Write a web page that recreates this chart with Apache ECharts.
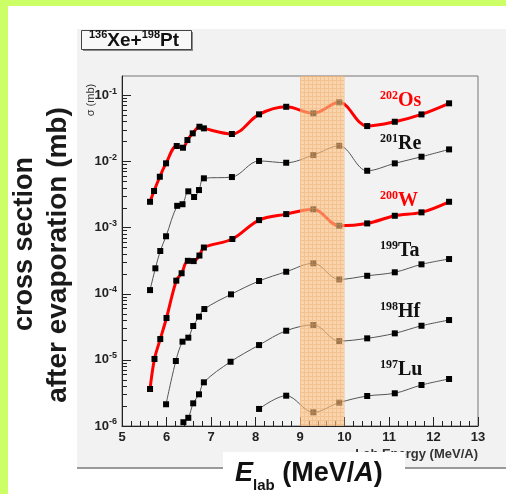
<!DOCTYPE html>
<html><head><meta charset="utf-8">
<script src="https://cdn.jsdelivr.net/npm/echarts/dist/echarts.min.js"></script>
<style>html,body{margin:0;padding:0;background:#fff}#c{width:506px;height:494px}</style>
</head><body><div id="c"></div>
<script>
// ---------------- data ----------------
const xTicks = [5, 6, 7, 8, 9, 10, 11, 12, 13];
const yDecades = [-6, -5, -4, -3, -2, -1];
const bandRange = [9, 10];

const os202E = [5.63, 5.72, 5.85, 5.99, 6.23, 6.37, 6.47, 6.59, 6.74, 6.84, 7.47, 8.08, 8.69, 9.30, 9.88, 10.51, 11.13, 11.73, 12.35];
const os202S = [2.44e-3, 3.55e-3, 5.83e-3, 9.3e-3, 1.70e-2, 1.60e-2, 2.09e-2, 2.64e-2, 3.32e-2, 3.14e-2, 2.58e-2, 5.11e-2, 6.65e-2, 5.3e-2, 7.76e-2, 3.4e-2, 3.95e-2, 5.1e-2, 7.5e-2];

const re201E = [5.63, 5.75, 5.86, 5.99, 6.24, 6.36, 6.49, 6.62, 6.73, 6.84, 7.47, 8.08, 8.69, 9.30, 9.88, 10.51, 11.13, 11.73, 12.35];
const re201S = [1.13e-4, 2.41e-4, 4.40e-4, 7.35e-4, 2.12e-3, 2.24e-3, 3.51e-3, 2.88e-3, 3.67e-3, 5.52e-3, 5.77e-3, 1.01e-2, 9.49e-3, 1.24e-2, 1.71e-2, 7.18e-3, 9.29e-3, 1.17e-2, 1.51e-2];

const w200E = [5.63, 5.73, 5.86, 6.00, 6.22, 6.34, 6.48, 6.61, 6.74, 6.84, 7.48, 8.08, 8.69, 9.30, 9.88, 10.51, 11.13, 11.73, 12.35];
const w200S = [3.62e-6, 1.03e-5, 2.06e-5, 4.28e-5, 1.57e-4, 2.03e-4, 3.13e-4, 3.1e-4, 3.76e-4, 4.97e-4, 6.68e-4, 1.29e-3, 1.59e-3, 1.88e-3, 1.06e-3, 1.15e-3, 1.50e-3, 1.69e-3, 2.44e-3];

const ta199E = [5.99, 6.21, 6.36, 6.49, 6.60, 6.73, 6.85, 7.45, 8.08, 8.69, 9.30, 9.88, 10.51, 11.13, 11.73, 12.35];
const ta199S = [2.13e-6, 9.6e-6, 1.88e-5, 2.16e-5, 3.24e-5, 4.48e-5, 5.85e-5, 9.75e-5, 1.55e-4, 2.14e-4, 2.87e-4, 1.64e-4, 1.86e-4, 2.10e-4, 2.77e-4, 3.33e-4];

const hf198E = [6.38, 6.49, 6.60, 6.73, 6.84, 7.44, 8.08, 8.69, 9.30, 9.88, 10.51, 11.13, 11.73, 12.35];
const hf198S = [1.14e-6, 1.33e-6, 2.20e-6, 3.01e-6, 4.57e-6, 9.35e-6, 1.67e-5, 2.75e-5, 3.36e-5, 1.92e-5, 2.11e-5, 2.51e-5, 3.27e-5, 3.99e-5];

const lu197E = [8.08, 8.69, 9.30, 9.88, 10.51, 11.13, 11.73, 12.35];
const lu197S = [1.81e-6, 2.87e-6, 1.61e-6, 2.25e-6, 2.84e-6, 3.12e-6, 4.16e-6, 5.13e-6];

const isoSup = ['202', '201', '200', '199', '198', '197'];
const isoMain = ['Os', 'Re', 'W', 'Ta', 'Hf', 'Lu'];

// ---------------- layout / style ----------------
const RED = '#ff0000';
const yMin = 1e-6, yMax = 0.194;
const GL = 122, GT = 76, GW = 356, GH = 350;
const isoLayout = [ // [x of superscript, center y of main text, colour]
  [380, 100.5, RED], [380, 143.5, '#111'], [380, 200.5, RED],
  [380, 251, '#111'], [380, 311.5, '#111'], [380, 369.5, '#111']
];

const mctx = document.createElement('canvas').getContext('2d');
function tw(text, font) { mctx.font = font; return mctx.measureText(text).width; }

// band pattern
const pc = document.createElement('canvas'); pc.width = 4; pc.height = 4;
const pg = pc.getContext('2d');
pg.fillStyle = 'rgba(252,195,130,0.62)'; pg.fillRect(0, 0, 4, 4);
pg.fillStyle = 'rgba(235,150,80,0.32)'; pg.fillRect(0, 0, 4, 1); pg.fillRect(0, 1, 1, 3);

function mkSeries(name, E, S, red) {
  return {
    name, type: 'line', data: E.map((e, i) => [e, S[i]]),
    smooth: 0.35, symbol: 'rect', symbolSize: 6, z: 4,
    lineStyle: { color: red ? RED : '#555', width: red ? 3 : 1 },
    itemStyle: { color: '#000' }, animation: false
  };
}

const graphics = [];
// backgrounds
graphics.push({ type: 'rect', z: -100, shape: { x: 0, y: 0, width: 506, height: 494 }, style: { fill: '#ffffff' } });
graphics.push({ type: 'rect', z: -99, shape: { x: 0, y: 0, width: 8, height: 494 }, style: { fill: '#ccff66' } });
graphics.push({ type: 'rect', z: -99, shape: { x: 0, y: 0, width: 506, height: 6 }, style: { fill: '#ccff66' } });
graphics.push({ type: 'rect', z: -98, shape: { x: 77, y: 29, width: 429, height: 439 }, style: { fill: '#f2f2f2' } });
graphics.push({ type: 'rect', z: -97, shape: { x: 77, y: 467, width: 429, height: 2 }, style: { fill: '#9a9a9a' } });

// reaction box
graphics.push({ type: 'rect', z: 20, shape: { x: 83, y: 32, width: 110, height: 19 }, style: { fill: '#8a8a8a' } });
graphics.push({ type: 'rect', z: 21, shape: { x: 81.5, y: 30.5, width: 110, height: 19 }, style: { fill: '#f8f8f8', stroke: '#444', lineWidth: 1 } });
(function () {
  const toks = [['136', 'bold 11px "Liberation Sans"', 35], ['Xe+', 'bold 19px "Liberation Sans"', 41],
                ['198', 'bold 11px "Liberation Sans"', 35], ['Pt', 'bold 19px "Liberation Sans"', 41]];
  let x = 89;
  toks.forEach(t => {
    graphics.push({ type: 'text', z: 22, style: { x, y: t[2], text: t[0], font: t[1], fill: '#111', textVerticalAlign: 'middle' } });
    x += tw(t[0], t[1]);
  });
})();

// isotope labels
isoSup.forEach((s, i) => {
  const [x, cy, col] = isoLayout[i];
  const fs = 'bold 12px "Liberation Serif"', fm = 'bold 20px "Liberation Serif"';
  graphics.push({ type: 'text', z: 30, style: { x, y: cy - 5, text: s, font: fs, fill: col, textVerticalAlign: 'middle' } });
  graphics.push({ type: 'text', z: 30, style: { x: x + tw(s, fs), y: cy, text: isoMain[i], font: fm, fill: col, textVerticalAlign: 'middle' } });
});

// inner y name
graphics.push({ type: 'text', z: 30, x: 91, y: 100, rotation: Math.PI / 2,
  style: { x: 0, y: 0, text: 'σ (mb)', font: '11px "Liberation Sans"', fill: '#333', textAlign: 'center', textVerticalAlign: 'middle' } });
// inner x name
graphics.push({ type: 'text', z: 50, style: { x: 478, y: 454, text: 'Lab Energy (MeV/A)', font: 'bold 13px "Liberation Sans"', fill: '#333', textAlign: 'right', textVerticalAlign: 'middle' } });
// white box + E_lab
graphics.push({ type: 'rect', z: 60, shape: { x: 223, y: 452, width: 182, height: 42 }, style: { fill: '#ffffff' } });
(function () {
  const big = 'bold 27px "Liberation Sans"', bigI = 'italic bold 27px "Liberation Sans"', sub = 'bold 15px "Liberation Sans"';
  const toks = [['E', bigI, 474], ['lab', sub, 486], [' (MeV/', big, 474], ['A', bigI, 474], [')', big, 474]];
  let x = 235;
  toks.forEach(t => {
    graphics.push({ type: 'text', z: 70, style: { x, y: t[2], text: t[0], font: t[1], fill: '#111', textVerticalAlign: 'middle' } });
    x += tw(t[0], t[1]);
  });
})();
// big outer y label
graphics.push({ type: 'text', z: 30, x: 25, y: 244, rotation: Math.PI / 2,
  style: { x: 0, y: 0, text: 'cross section', font: 'bold 27px "Liberation Sans"', fill: '#1a1a1a', textAlign: 'center', textVerticalAlign: 'middle' } });
graphics.push({ type: 'text', z: 30, x: 58, y: 255, rotation: Math.PI / 2,
  style: { x: 0, y: 0, text: 'after evaporation (mb)', font: 'bold 28px "Liberation Sans"', fill: '#1a1a1a', textAlign: 'center', textVerticalAlign: 'middle' } });

const chart = echarts.init(document.getElementById('c'), null, { renderer: 'canvas' });
chart.setOption({
  animation: false,
  grid: { left: GL, top: GT, width: GW, height: GH, show: true, borderColor: '#777', borderWidth: 1, backgroundColor: 'transparent' },
  xAxis: {
    type: 'value', min: xTicks[0], max: xTicks[xTicks.length - 1], interval: 1,
    axisLine: { show: true, lineStyle: { color: '#222', width: 1 } },
    axisTick: { show: true, inside: true, length: 9, lineStyle: { color: '#222' } },
    minorTick: { show: true, splitNumber: 5, length: 5, lineStyle: { color: '#222' } },
    splitLine: { show: false },
    axisLabel: { color: '#222', fontSize: 13, fontWeight: 'bold', fontFamily: 'Liberation Sans', margin: 5,
      formatter: v => xTicks.includes(v) ? String(v) : '' }
  },
  yAxis: {
    type: 'log', logBase: 10, min: yMin, max: yMax,
    axisLine: { show: true, lineStyle: { color: '#222', width: 1 } },
    axisTick: { show: false }, splitLine: { show: false },
    axisLabel: {
      margin: 5, color: '#222',
      formatter: v => {
        const e = Math.log10(v), r = Math.round(e);
        if (Math.abs(e - r) > 1e-6 || !yDecades.includes(r)) return '';
        return '{b|10}{s|' + r + '}';
      },
      rich: {
        b: { fontSize: 13, fontWeight: 'bold', fontFamily: 'Liberation Sans', color: '#222' },
        s: { fontSize: 9, fontWeight: 'bold', fontFamily: 'Liberation Sans', color: '#222', padding: [0, 0, 8, 0] }
      }
    }
  },
  graphic: { elements: graphics },
  series: [
    mkSeries('202Os', os202E, os202S, true),
    mkSeries('201Re', re201E, re201S, false),
    mkSeries('200W', w200E, w200S, true),
    mkSeries('199Ta', ta199E, ta199S, false),
    mkSeries('198Hf', hf198E, hf198S, false),
    mkSeries('197Lu', lu197E, lu197S, false),
    { // y-axis ticks at 1..9 x 10^n
      type: 'custom', silent: true, z: 3, data: [[5, 1e-3]], clip: false,
      renderItem(params, api) {
        const cs = params.coordSys, ch = [];
        yDecades.forEach(e => {
          for (let k = 1; k <= 9; k++) {
            const v = k * Math.pow(10, e);
            if (v > yMax) break;
            const y = Math.round(api.coord([5, v])[1]) + 0.5;
            const len = k === 1 ? 9 : 5;
            ch.push({ type: 'line', shape: { x1: cs.x, y1: y, x2: cs.x + len, y2: y }, style: { stroke: '#222', lineWidth: 1 } });
          }
        });
        return { type: 'group', children: ch };
      }
    },
    { // shaded energy band
      type: 'custom', silent: true, z: 10, clip: false, data: [[bandRange[0], bandRange[1]]],
      renderItem(params, api) {
        const cs = params.coordSys;
        const x0 = api.coord([api.value(0), yMax])[0];
        const x1 = api.coord([api.value(1), yMax])[0];
        return { type: 'rect', shape: { x: x0, y: cs.y, width: x1 - x0, height: cs.height },
          style: { fill: { image: pc, repeat: 'repeat' } } };
      }
    }
  ]
});
</script></body></html>
